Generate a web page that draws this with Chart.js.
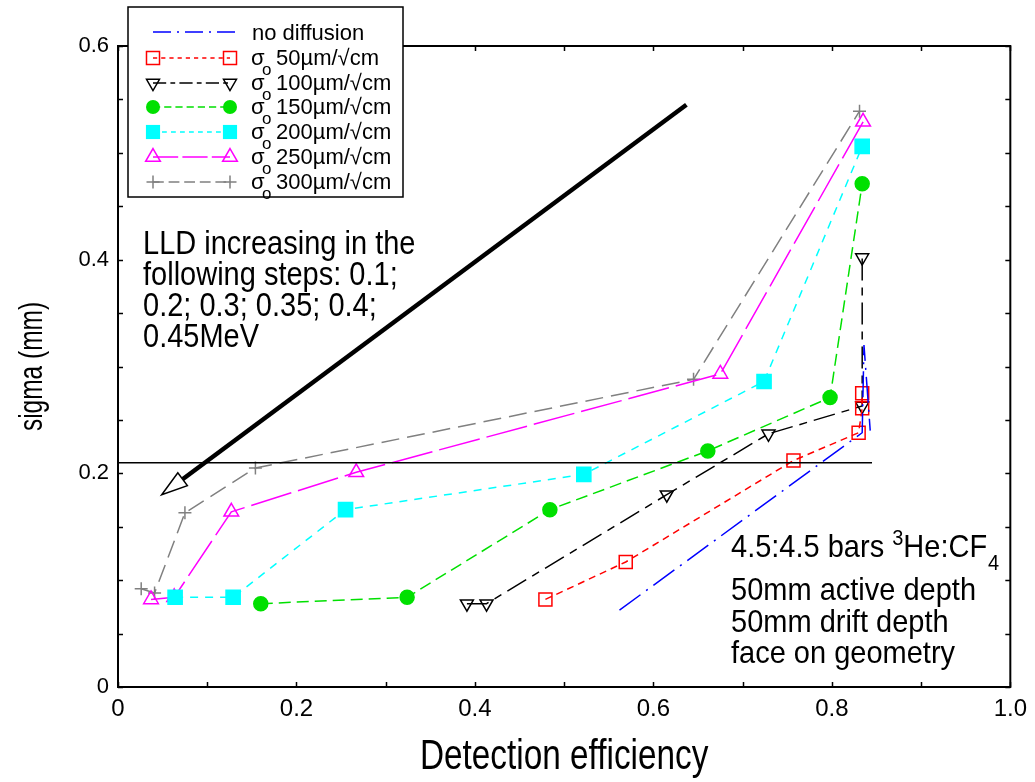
<!DOCTYPE html>
<html><head><meta charset="utf-8">
<script src="https://cdn.jsdelivr.net/npm/chart.js@4.4.0/dist/chart.umd.min.js"></script>
<style>html,body{margin:0;padding:0;background:#fff}</style>
</head><body>
<canvas id="c" width="1035" height="782" style="display:block;width:1035px;height:782px"></canvas>
<script>
// ---- data ----
const seriesLabels = ['no diffusion', '50µm/√cm', '100µm/√cm', '150µm/√cm', '200µm/√cm', '250µm/√cm', '300µm/√cm'];
const xNoDiff = [0.562, 0.834, 0.836, 0.843];
const yNoDiff = [0.072, 0.238, 0.320, 0.240];
const x50 = [0.479, 0.569, 0.757, 0.830, 0.834, 0.834];
const y50 = [0.082, 0.117, 0.212, 0.238, 0.261, 0.275];
const x100 = [0.391, 0.413, 0.615, 0.729, 0.834, 0.834];
const y100 = [0.078, 0.078, 0.180, 0.237, 0.263, 0.402];
const x150 = [0.160, 0.324, 0.484, 0.661, 0.798, 0.834];
const y150 = [0.078, 0.084, 0.166, 0.221, 0.271, 0.471];
const x200 = [0.064, 0.129, 0.255, 0.522, 0.724, 0.834];
const y200 = [0.084, 0.084, 0.166, 0.199, 0.286, 0.506];
const x250 = [0.037, 0.063, 0.127, 0.267, 0.675, 0.835];
const y250 = [0.082, 0.084, 0.164, 0.201, 0.293, 0.529];
const x300 = [0.026, 0.041, 0.075, 0.154, 0.645, 0.831];
const y300 = [0.092, 0.088, 0.163, 0.205, 0.288, 0.539];
const refLineX = [0, 0.845];
const refLineY = [0.21, 0.21];
const arrowX = [0.637, 0.049];
const arrowY = [0.545, 0.180];
const xTickLabels = ['0', '0.2', '0.4', '0.6', '0.8', '1.0'];
const yTickLabels = ['0', '0.2', '0.4', '0.6'];
const xTitle = 'Detection efficiency';
const yTitle = 'sigma (mm)';
const lldText = ['LLD increasing in the', 'following steps: 0.1;', '0.2; 0.3; 0.35; 0.4;', '0.45MeV'];
const gasText = ['50mm active depth', '50mm drift depth', 'face on geometry'];

function pts(xs, ys) { return xs.map((x, i) => ({x: x, y: ys[i]})); }

const SANS = "'Liberation Sans',Arial,sans-serif";

const styles = [
  {color: '#0000ff', dash: [26, 7, 2, 7], style: false, r: 0, fill: false},
  {color: '#ff0000', dash: [7, 5], style: 'rect', r: 9.2, fill: false},
  {color: '#000000', dash: [22, 7, 8, 7], style: 'triangle', r: 7.5, fill: false, rot: 180},
  {color: '#00e000', dash: [12, 6], style: 'circle', r: 7, fill: true},
  {color: '#00ffff', dash: [8, 7], style: 'rect', r: 10, fill: true},
  {color: '#ff00ff', dash: [42, 7], style: 'triangle', r: 8.5, fill: false},
  {color: '#808080', dash: [18, 8], style: 'cross', r: 6.5, fill: false}
];
const seriesData = [pts(xNoDiff, yNoDiff), pts(x50, y50), pts(x100, y100), pts(x150, y150), pts(x200, y200), pts(x250, y250), pts(x300, y300)];

const datasets = seriesData.map((d, i) => {
  const s = styles[i];
  return {
    label: seriesLabels[i], data: d, showLine: true,
    borderColor: s.color, borderWidth: 1.5, borderDash: s.dash,
    pointStyle: s.style || 'circle', pointRadius: s.r, pointHoverRadius: s.r,
    pointBorderColor: s.color, pointBorderWidth: 1.5,
    pointBackgroundColor: s.fill ? s.color : 'rgba(0,0,0,0)',
    pointRotation: s.rot || 0, fill: false, tension: 0
  };
});
datasets.unshift({label: 'ref', data: pts(refLineX, refLineY), showLine: true, borderColor: '#000', borderWidth: 1.5, pointRadius: 0, fill: false});

function drawMarker(ctx, s, x, y) {
  if (!s.style) return;
  ctx.save();
  ctx.strokeStyle = s.color; ctx.fillStyle = s.color; ctx.lineWidth = 1.5; ctx.setLineDash([]);
  ctx.beginPath();
  const r = s.r;
  if (s.style === 'rect') {
    const h = r * Math.SQRT1_2; ctx.rect(x - h, y - h, 2 * h, 2 * h);
  } else if (s.style === 'circle') {
    ctx.arc(x, y, r, 0, Math.PI * 2);
  } else if (s.style === 'triangle') {
    let a = (s.rot || 0) * Math.PI / 180;
    for (let k = 0; k < 3; k++) {
      const px = x + Math.sin(a) * r, py = y - Math.cos(a) * r;
      if (k === 0) ctx.moveTo(px, py); else ctx.lineTo(px, py);
      a += 2 * Math.PI / 3;
    }
    ctx.closePath();
  } else if (s.style === 'cross') {
    ctx.moveTo(x - r, y); ctx.lineTo(x + r, y); ctx.moveTo(x, y - r); ctx.lineTo(x, y + r);
  }
  if (s.fill) ctx.fill(); else ctx.stroke();
  ctx.restore();
}

function stretchText(ctx, txt, x, y, sy) {
  ctx.save(); ctx.translate(x, y); ctx.scale(1, sy); ctx.fillText(txt, 0, 0); ctx.restore();
  return ctx.measureText(txt).width;
}

const decor = {
  id: 'decor',
  beforeDatasetsDraw(chart) {
    const {ctx, chartArea: a, scales: {x, y}} = chart;
    ctx.save();
    ctx.strokeStyle = '#000'; ctx.lineWidth = 1.5; ctx.setLineDash([]);
    ctx.beginPath();
    for (let v = 0; v <= 1.0001; v += 0.1) {
      const px = Math.round(x.getPixelForValue(v)) + 0.5;
      ctx.moveTo(px, a.bottom); ctx.lineTo(px, a.bottom - 5);
      ctx.moveTo(px, a.top); ctx.lineTo(px, a.top + 5);
    }
    for (let v = 0; v <= 0.6001; v += 0.05) {
      const py = Math.round(y.getPixelForValue(v)) + 0.5;
      ctx.moveTo(a.left, py); ctx.lineTo(a.left + 5, py);
      ctx.moveTo(a.right, py); ctx.lineTo(a.right - 5, py);
    }
    ctx.stroke();
    ctx.lineWidth = 2;
    ctx.strokeRect(a.left, a.top, a.right - a.left, a.bottom - a.top);

    // axis titles (condensed look)
    ctx.fillStyle = '#000'; ctx.textAlign = 'center'; ctx.textBaseline = 'middle';
    ctx.font = '43px ' + SANS;
    ctx.save(); ctx.translate((a.left + a.right) / 2, 757); ctx.scale(0.775, 1); ctx.fillText(xTitle, 0, 0); ctx.restore();
    ctx.font = '34px ' + SANS;
    ctx.save(); ctx.translate(33, (a.top + a.bottom) / 2); ctx.rotate(-Math.PI / 2); ctx.scale(0.72, 1); ctx.fillText(yTitle, 0, 0); ctx.restore();
    ctx.restore();
  },
  afterDatasetsDraw(chart) {
    const {ctx, scales: {x, y}} = chart;
    ctx.save();
    // arrow
    const x0 = x.getPixelForValue(arrowX[0]), y0 = y.getPixelForValue(arrowY[0]);
    const x1 = x.getPixelForValue(arrowX[1]), y1 = y.getPixelForValue(arrowY[1]);
    const ang = Math.atan2(y1 - y0, x1 - x0);
    const L = 26, W = 8;
    const bx = x1 - Math.cos(ang) * L, by = y1 - Math.sin(ang) * L;
    ctx.strokeStyle = '#000'; ctx.setLineDash([]);
    ctx.lineWidth = 4.5; ctx.lineCap = 'butt';
    ctx.beginPath(); ctx.moveTo(x0, y0); ctx.lineTo(bx, by); ctx.stroke();
    ctx.lineWidth = 1.5; ctx.fillStyle = '#fff';
    ctx.beginPath();
    ctx.moveTo(x1, y1);
    ctx.lineTo(bx - Math.sin(ang) * W, by + Math.cos(ang) * W);
    ctx.lineTo(bx + Math.sin(ang) * W, by - Math.cos(ang) * W);
    ctx.closePath(); ctx.fill(); ctx.stroke();

    // annotations
    ctx.fillStyle = '#000'; ctx.textBaseline = 'alphabetic'; ctx.textAlign = 'left';
    ctx.font = '29px ' + SANS;
    const lldBase = [254, 285, 316, 347];
    lldText.forEach((t, i) => stretchText(ctx, t, 143, lldBase[i], 1.12));
    let gx = 731;
    gx += stretchText(ctx, '4.5:4.5 bars ', gx, 557, 1.06);
    ctx.font = '20px ' + SANS;
    gx += stretchText(ctx, '3', gx, 545, 1.06);
    ctx.font = '29px ' + SANS;
    gx += stretchText(ctx, 'He:CF', gx, 557, 1.06);
    ctx.font = '20px ' + SANS;
    stretchText(ctx, '4', gx + 1, 570, 1.06);
    ctx.font = '29px ' + SANS;
    const gBase = [600, 632, 663];
    gasText.forEach((t, i) => stretchText(ctx, t, 731, gBase[i], 1.06));

    // legend box
    ctx.fillStyle = '#fff'; ctx.strokeStyle = '#000'; ctx.lineWidth = 1.5;
    ctx.fillRect(128, 7, 275, 190); ctx.strokeRect(128, 7, 275, 190);
    const rowY = [32, 58, 83, 107, 132, 157, 182];
    styles.forEach((s, i) => {
      const yy = rowY[i];
      ctx.save();
      ctx.strokeStyle = s.color; ctx.lineWidth = 1.5; ctx.setLineDash(i === 0 ? [18, 6, 2, 6] : s.dash.map(v => Math.max(4, v * 0.6)));
      ctx.beginPath(); ctx.moveTo(153, yy); ctx.lineTo(i === 0 ? 238 : 230, yy); ctx.stroke();
      ctx.restore();
      drawMarker(ctx, s, 153, yy);
      drawMarker(ctx, s, 230, yy);
      ctx.fillStyle = '#000';
      if (i === 0) {
        ctx.font = '22px ' + SANS;
        ctx.fillText(seriesLabels[0], 252, yy + 8);
      } else {
        ctx.font = '22px ' + SANS;
        ctx.fillText('σ', 251, yy + 7);
        ctx.font = '17px ' + SANS;
        ctx.fillText('o', 262, yy + 17);
        ctx.font = '22px ' + SANS;
        ctx.fillText(seriesLabels[i], 276, yy + 7);
      }
    });
    ctx.restore();
  }
};

new Chart(document.getElementById('c'), {
  type: 'scatter',
  data: {datasets: datasets},
  plugins: [decor],
  options: {
    responsive: false, animation: false, devicePixelRatio: 1,
    layout: {padding: {top: 46, right: 18, left: 0, bottom: 0}},
    plugins: {legend: {display: false}, tooltip: {enabled: false}},
    scales: {
      x: {
        type: 'linear', min: 0, max: 1.0,
        afterFit: s => { s.height = 95; },
        grid: {display: false, drawTicks: false},
        border: {display: false},
        ticks: {stepSize: 0.1, padding: 8, color: '#000', font: {family: SANS, size: 24},
          callback: v => { const k = Math.round(v * 10); return k % 2 === 0 ? xTickLabels[k / 2] : ''; },
          maxRotation: 0, autoSkip: false},
        title: {display: false, text: xTitle}
      },
      y: {
        type: 'linear', min: 0, max: 0.6,
        afterFit: s => { s.width = 118; },
        grid: {display: false, drawTicks: false},
        border: {display: false},
        ticks: {stepSize: 0.05, padding: 9, color: '#000', font: {family: SANS, size: 22},
          callback: v => { const k = Math.round(v * 20); return k % 4 === 0 ? yTickLabels[k / 4] : ''; },
          autoSkip: false},
        title: {display: false, text: yTitle}
      }
    }
  }
});
</script>
</body></html>
